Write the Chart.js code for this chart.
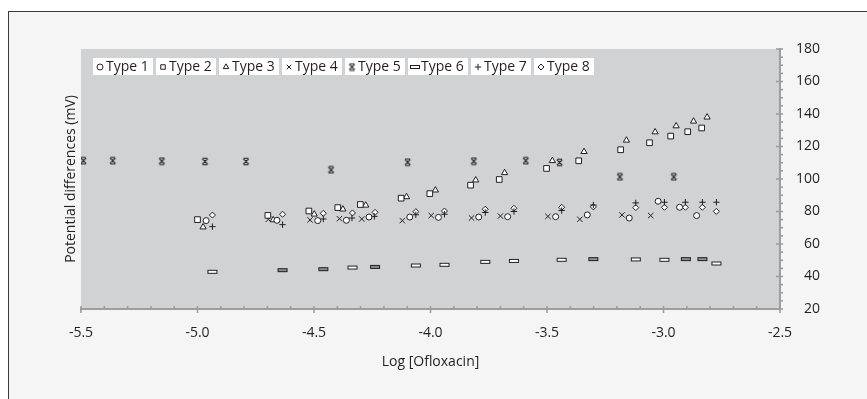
<!DOCTYPE html>
<html>
<head>
<meta charset="utf-8">
<script src="https://cdn.jsdelivr.net/npm/chart.js@4.4.1/dist/chart.umd.min.js"></script>
<style>
  html, body { margin: 0; padding: 0; background: #ffffff; }
  body { width: 867px; height: 399px; overflow: hidden; position: relative; }
  #frame { position: absolute; left: 8px; top: 11px; width: 900px; height: 420px;
           background: #f5f5f5; border: 1px solid #3a3a3a; box-sizing: border-box; }
  #c { position: absolute; left: 0; top: 0; }
</style>
</head>
<body>
<div id="frame"></div>
<canvas id="c" width="867" height="399"></canvas>
<script>
// ---------------- data ----------------
const seriesNames = ['Type 1', 'Type 2', 'Type 3', 'Type 4', 'Type 5', 'Type 6', 'Type 7', 'Type 8'];

const xTicks = [-5.5, -5.0, -4.5, -4.0, -3.5, -3.0, -2.5];
const yTicks = [20, 40, 60, 80, 100, 120, 140, 160, 180];

const type1X = [-4.963, -4.659, -4.484, -4.361, -4.264, -4.089, -3.966, -3.793, -3.669, -3.463, -3.327, -3.147, -3.023, -2.931, -2.858];
const type1Y = [74.4, 74.6, 74.4, 74.6, 76.6, 76.6, 76.4, 76.6, 76.8, 76.8, 77.9, 76.0, 86.3, 82.6, 77.5];

const type2X = [-5.0, -4.698, -4.522, -4.398, -4.301, -4.126, -4.003, -3.828, -3.705, -3.502, -3.364, -3.184, -3.06, -2.969, -2.896, -2.836];
const type2Y = [75.0, 77.6, 80.3, 82.4, 84.3, 88.2, 91.0, 96.2, 99.7, 106.5, 111.2, 118.0, 122.3, 126.4, 129.1, 131.4];

const type3X = [-4.976, -4.675, -4.499, -4.376, -4.278, -4.103, -3.979, -3.806, -3.682, -3.477, -3.341, -3.159, -3.036, -2.946, -2.871, -2.813];
const type3Y = [70.4, 74.8, 78.3, 81.4, 83.8, 89.0, 93.1, 99.3, 103.8, 111.2, 116.8, 123.8, 128.9, 132.6, 135.5, 138.0];

const type4X = [-5.0, -4.696, -4.517, -4.391, -4.295, -4.121, -3.997, -3.824, -3.7, -3.496, -3.359, -3.178, -3.055];
const type4Y = [75.0, 75.2, 74.8, 75.6, 75.4, 74.4, 77.5, 76.0, 77.2, 77.0, 75.2, 77.9, 77.5];

const type5X = [-5.49, -5.364, -5.153, -4.968, -4.792, -4.427, -4.098, -3.814, -3.591, -3.446, -3.187, -2.956];
const type5Y = [111.2, 111.2, 111.0, 110.8, 110.8, 105.6, 110.4, 111.0, 111.2, 110.2, 101.3, 101.3];

const type6X = [-4.936, -4.635, -4.46, -4.335, -4.238, -4.063, -3.94, -3.765, -3.642, -3.437, -3.301, -3.119, -2.996, -2.904, -2.833, -2.773];
const type6Y = [42.9, 43.9, 44.5, 45.5, 45.9, 46.8, 47.2, 49.0, 49.6, 50.3, 50.7, 50.5, 50.3, 50.7, 50.7, 48.0];

const type7X = [-4.936, -4.635, -4.46, -4.337, -4.241, -4.063, -3.94, -3.765, -3.642, -3.437, -3.301, -3.119, -2.996, -2.906, -2.833, -2.773];
const type7Y = [70.7, 71.9, 75.4, 76.0, 77.0, 78.0, 78.3, 79.4, 80.0, 80.6, 84.0, 85.3, 85.7, 85.7, 85.7, 85.7];

const type8X = [-4.936, -4.635, -4.46, -4.335, -4.238, -4.063, -3.94, -3.765, -3.642, -3.437, -3.301, -3.119, -2.996, -2.906, -2.833, -2.773];
const type8Y = [77.8, 78.3, 78.9, 79.1, 79.5, 79.9, 80.3, 81.4, 82.0, 82.6, 82.8, 82.4, 82.6, 82.6, 82.6, 80.1];

// ---------------- styling helpers ----------------
const INK = '#231f20';
const FONT = "'Open Sans', 'Noto Sans', sans-serif";

function makeCanvas(w, h, draw) {
  const c = document.createElement('canvas');
  c.width = w; c.height = h;
  draw(c.getContext('2d'));
  return c;
}
const starMark = makeCanvas(9, 9, (g) => {
  g.strokeStyle = INK; g.lineWidth = 1.1; g.lineCap = 'butt';
  g.beginPath();
  g.moveTo(1.8, 1.8); g.lineTo(7.2, 7.2);
  g.moveTo(7.2, 1.8); g.lineTo(1.8, 7.2);
  g.moveTo(2, 1.3); g.lineTo(7, 1.3);
  g.moveTo(2, 7.7); g.lineTo(7, 7.7);
  g.moveTo(4.5, 3); g.lineTo(4.5, 6);
  g.stroke();
});
function dash(fill) {
  return makeCanvas(12, 6, (g) => {
    g.fillStyle = fill; g.fillRect(1, 1, 10, 4);
    g.strokeStyle = INK; g.lineWidth = 1; g.strokeRect(1.5, 1.5, 9, 3);
  });
}
const dashWhite = dash('#ffffff');
const dashGray = dash('#8c8c8c');
const grayDashIdx = [1, 2, 4, 10, 13, 14];

function pts(xs, ys) { return xs.map((x, i) => ({ x: x, y: ys[i] })); }

const base = { borderColor: INK, backgroundColor: '#ffffff', borderWidth: 1, showLine: false, xAxisID: 'x', yAxisID: 'y' };
const datasets = [
  Object.assign({}, base, { label: seriesNames[0], data: pts(type1X, type1Y), pointStyle: 'circle', pointRadius: 3 }),
  Object.assign({}, base, { label: seriesNames[1], data: pts(type2X, type2Y), pointStyle: 'rect', pointRadius: 4 }),
  Object.assign({}, base, { label: seriesNames[2], data: pts(type3X, type3Y), pointStyle: 'triangle', pointRadius: 3.6 }),
  Object.assign({}, base, { label: seriesNames[3], data: pts(type4X, type4Y), pointStyle: 'crossRot', pointRadius: 3.8 }),
  Object.assign({}, base, { label: seriesNames[4], data: pts(type5X, type5Y), pointStyle: starMark, pointRadius: 4 }),
  Object.assign({}, base, { label: seriesNames[5], data: pts(type6X, type6Y),
      pointStyle: (c) => grayDashIdx.includes(c.dataIndex) ? dashGray : dashWhite, pointRadius: 5 }),
  Object.assign({}, base, { label: seriesNames[6], data: pts(type7X, type7Y), pointStyle: 'cross', pointRadius: 3.2 }),
  Object.assign({}, base, { label: seriesNames[7], data: pts(type8X, type8Y), pointStyle: 'rectRot', pointRadius: 3 })
];

// ---------------- plugins ----------------
const plotBg = {
  id: 'plotBg',
  beforeDraw(chart) {
    const { ctx, chartArea: a } = chart;
    ctx.save();
    ctx.fillStyle = '#d1d2d4';
    ctx.fillRect(a.left, a.top, a.right - a.left, a.bottom - a.top);
    ctx.restore();
  }
};

const axisTicks = {
  id: 'axisTicks',
  afterDraw(chart) {
    const { ctx, chartArea: a } = chart;
    const xs = chart.scales.x, ys = chart.scales.y;
    ctx.save();
    ctx.strokeStyle = '#9d9d9d';
    ctx.lineWidth = 1.6;
    const xMin = xTicks[0], xMax = xTicks[xTicks.length - 1];
    const nx = Math.round((xMax - xMin) / 0.1);
    for (let i = 0; i <= nx; i++) {
      const px = xs.getPixelForValue(xMin + i * 0.1);
      ctx.beginPath();
      if (i % 5 === 0) { ctx.moveTo(px, a.bottom - 3); ctx.lineTo(px, a.bottom + 4); }
      else { ctx.moveTo(px, a.bottom - 3); ctx.lineTo(px, a.bottom); }
      ctx.stroke();
    }
    const yMin = yTicks[0], yMax = yTicks[yTicks.length - 1];
    const ny = Math.round((yMax - yMin) / 5);
    for (let i = 0; i <= ny; i++) {
      const py = ys.getPixelForValue(yMin + i * 5);
      ctx.beginPath();
      if (i % 4 === 0) { ctx.moveTo(a.right - 4, py); ctx.lineTo(a.right + 3, py); }
      else { ctx.moveTo(a.right, py); ctx.lineTo(a.right + 3, py); }
      ctx.stroke();
    }
    ctx.restore();
  }
};

const boxLegend = {
  id: 'boxLegend',
  afterDraw(chart) {
    const ctx = chart.ctx;
    const a = chart.chartArea;
    const x0 = a.left + 12, y0 = a.top + 9, w = 60, h = 17, gap = 3;
    ctx.save();
    chart.data.datasets.forEach((ds, i) => {
      const bx = x0 + i * (w + gap);
      ctx.fillStyle = '#ffffff';
      ctx.fillRect(bx, y0, w, h);
      let style = ds.pointStyle;
      if (typeof style === 'function') style = dashWhite;
      ctx.strokeStyle = INK;
      ctx.fillStyle = '#ffffff';
      ctx.lineWidth = 1;
      Chart.helpers.drawPoint(ctx, {
        pointStyle: style, radius: Math.min(ds.pointRadius, 3.2), rotation: 0, borderWidth: 1
      }, bx + 7, y0 + h / 2 + 0.5);
      ctx.fillStyle = INK;
      ctx.font = '14px ' + FONT;
      ctx.textAlign = 'left';
      ctx.textBaseline = 'middle';
      ctx.fillText(ds.label, bx + 13, y0 + h / 2 + 0.5);
    });
    ctx.restore();
  }
};

// ---------------- chart ----------------
new Chart(document.getElementById('c'), {
  type: 'scatter',
  data: { datasets: datasets },
  options: {
    responsive: false,
    animation: false,
    devicePixelRatio: 1,
    layout: { padding: { top: 49, left: 0, right: 47, bottom: 0 } },
    plugins: { legend: { display: false }, tooltip: { enabled: false } },
    scales: {
      x: {
        type: 'linear', position: 'bottom',
        min: xTicks[0], max: xTicks[xTicks.length - 1],
        afterBuildTicks: (s) => { s.ticks = xTicks.map(v => ({ value: v })); },
        afterFit: (s) => { s.height = 90; },
        grid: { display: false, drawTicks: false },
        border: { display: true, color: '#9d9d9d', width: 2 },
        ticks: { color: INK, font: { family: FONT, size: 14 }, padding: 16,
                 callback: (v) => Number(v).toFixed(1) },
        title: { display: true, text: 'Log [Ofloxacin]', color: INK,
                 font: { family: FONT, size: 14 }, padding: { top: 0, bottom: 29 } }
      },
      y: {
        type: 'linear', position: 'right',
        min: yTicks[0], max: yTicks[yTicks.length - 1],
        afterBuildTicks: (s) => { s.ticks = yTicks.map(v => ({ value: v })); },
        afterFit: (s) => { s.width = 40; },
        grid: { display: false, drawTicks: false },
        border: { display: true, color: '#9d9d9d', width: 2 },
        ticks: { color: INK, font: { family: FONT, size: 14 }, padding: 16, crossAlign: 'far' }
      },
      yTitle: {
        type: 'linear', position: 'left',
        afterFit: (s) => { s.width = 81; },
        grid: { display: false, drawTicks: false },
        border: { display: false },
        ticks: { display: false },
        title: { display: true, text: 'Potential differences (mV)', color: INK,
                 font: { family: FONT, size: 14 }, padding: { top: 63, bottom: 0 } }
      }
    }
  },
  plugins: [plotBg, axisTicks, boxLegend]
});
</script>
</body>
</html>
